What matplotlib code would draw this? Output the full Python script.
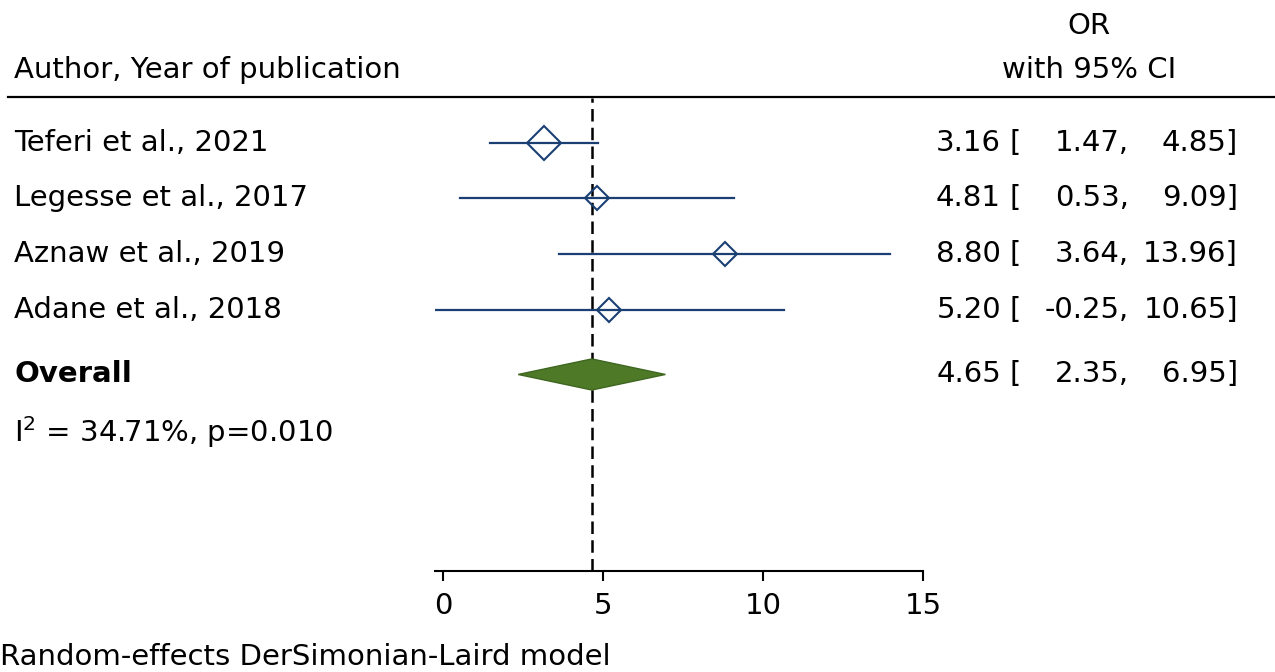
import matplotlib
matplotlib.use("Agg")
import matplotlib.pyplot as plt
import matplotlib.transforms as mtransforms
from matplotlib.patches import Polygon

plt.rcParams['font.family'] = ['DejaVu Sans']

# study data
studies = ["Teferi et al., 2021", "Legesse et al., 2017",
           "Aznaw et al., 2019", "Adane et al., 2018"]
or_est = [3.16, 4.81, 8.80, 5.20]
ci_low = [1.47, 0.53, 3.64, -0.25]
ci_high = [4.85, 9.09, 13.96, 10.65]
marker_sz = [17, 12, 12, 12]   # weight-scaled box size

overall_est = 4.65
overall_low = 2.35
overall_high = 6.95
het_text = r"I$^2$ = 34.71%, p=0.010"

rows = [1, 2, 3, 4]
overall_row = 5.17
het_row = 6.2

navy = "#1A3F73"
green = "#4E7A27"
fs = 21

fig = plt.figure(figsize=(12.75, 6.72), dpi=100)
ax = fig.add_axes([435 / 1275, 101 / 672, 488 / 1275, 473 / 672])
ax.set_xlim(-0.25, 15)
ax.set_ylim(8.71, 0.19)

for r, e, lo, hi, ms in zip(rows, or_est, ci_low, ci_high, marker_sz):
    ax.plot([lo, hi], [r, r], color=navy, lw=1.6, zorder=2)
    ax.plot([e], [r], marker="D", ms=ms, mfc="none", mec=navy, mew=1.5, zorder=3)

# pooled diamond
dh = 0.28
ax.add_patch(Polygon([[overall_low, overall_row], [overall_est, overall_row - dh],
                      [overall_high, overall_row], [overall_est, overall_row + dh]],
                     closed=True, facecolor=green, edgecolor="#3F6620", lw=1, zorder=4))

ax.axvline(overall_est, color="black", lw=1.8, ls=(0, (5, 2.5)), zorder=1)

for s in ["top", "right", "left"]:
    ax.spines[s].set_visible(False)
ax.spines["bottom"].set_linewidth(1.5)
ax.set_yticks([])
ax.set_xticks([0, 5, 10, 15])
ax.tick_params(axis="x", direction="out", length=7, width=1.5, labelsize=fs, pad=8)

# text columns
tr = mtransforms.blended_transform_factory(fig.transFigure, ax.transData)
xl = 14 / 1275
for r, s in zip(rows, studies):
    fig.text(xl, r, s, transform=tr, fontsize=fs, va="center", ha="left")
fig.text(xl, overall_row, "Overall", transform=tr, fontsize=fs, va="center",
         ha="left", fontweight="bold")
fig.text(xl, het_row, het_text, transform=tr, fontsize=fs, va="center", ha="left")

all_e = or_est + [overall_est]
all_lo = ci_low + [overall_low]
all_hi = ci_high + [overall_high]
for r, e, lo, hi in zip(rows + [overall_row], all_e, all_lo, all_hi):
    fig.text(1001 / 1275, r, f"{e:.2f}", transform=tr, fontsize=fs, va="center", ha="right")
    fig.text(1010 / 1275, r, "[", transform=tr, fontsize=fs, va="center", ha="left")
    fig.text(1129 / 1275, r, f"{lo:.2f},", transform=tr, fontsize=fs, va="center", ha="right")
    fig.text(1238 / 1275, r, f"{hi:.2f}]", transform=tr, fontsize=fs, va="center", ha="right")

# header
fig.text(xl, 1 - 70 / 672, "Author, Year of publication", fontsize=fs, va="center", ha="left")
fig.text(1089 / 1275, 1 - 26 / 672, "OR", fontsize=fs, va="center", ha="center")
fig.text(1089 / 1275, 1 - 70 / 672, "with 95% CI", fontsize=fs, va="center", ha="center")
fig.add_artist(plt.Line2D([8 / 1275, 1], [1 - 97 / 672, 1 - 97 / 672],
                          transform=fig.transFigure, color="black", lw=1.6))

fig.text(0, 1 - 657 / 672, "Random-effects DerSimonian-Laird model", fontsize=fs,
         va="center", ha="left")

fig.savefig("out.png", dpi=100)
